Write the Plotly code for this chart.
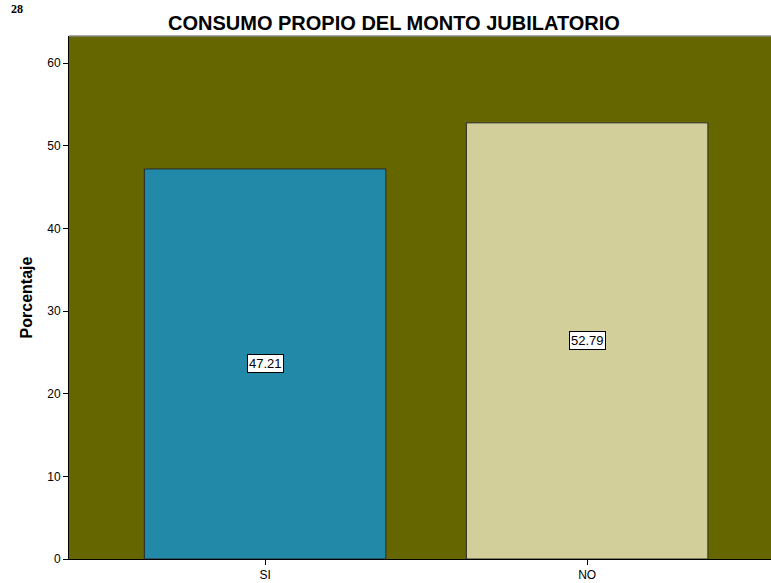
import plotly.graph_objects as go

categories = ["SI", "NO"]
values = [47.21, 52.79]
labels = ["47.21", "52.79"]
colors = ["#2389a8", "#d3cf9a"]

FONT = "Liberation Sans, Arial"

fig = go.Figure()
fig.add_trace(go.Bar(
    x=categories, y=values, width=0.75,
    marker=dict(color=colors, line=dict(color="#2a2a2a", width=1)),
    hoverinfo="skip",
))

for c, v, t in zip(categories, values, labels):
    fig.add_annotation(x=c, y=v / 2, text=t, showarrow=False,
                       font=dict(family=FONT, size=13, color="black"),
                       bgcolor="white", bordercolor="black", borderwidth=1, borderpad=1)

fig.add_annotation(xref="paper", yref="paper", x=-0.085, y=1.0688, text="<b>28</b>",
                   showarrow=False, xanchor="left", yanchor="top",
                   font=dict(family="Liberation Serif", size=12, color="black"))

fig.update_layout(
    width=771, height=583,
    margin=dict(l=69, r=0, t=36, b=24),
    paper_bgcolor="white", plot_bgcolor="#666600",
    showlegend=False,
    title=dict(text="<b>CONSUMO PROPIO DEL MONTO JUBILATORIO</b>", x=0.511, xanchor="center",
               y=0.9605, yanchor="middle",
               font=dict(family=FONT, size=20, color="black")),
    xaxis=dict(range=[-0.609, 1.571], showgrid=False, zeroline=False,
               ticks="outside", ticklen=5, tickcolor="black",
               showline=True, linecolor="black", linewidth=1,
               tickfont=dict(family=FONT, size=12, color="black")),
    yaxis=dict(range=[0, 63.3], tickvals=[0, 10, 20, 30, 40, 50, 60], showgrid=False, zeroline=False,
               ticks="outside", ticklen=5, tickcolor="black",
               showline=True, linecolor="black", linewidth=1,
               title=dict(text="<b>Porcentaje</b>", standoff=10,
                          font=dict(family=FONT, size=16, color="black")),
               tickfont=dict(family=FONT, size=12, color="black")),
    bargap=0.25,
)
fig.add_shape(type="line", xref="paper", yref="paper", x0=0, x1=1, y0=1, y1=1,
              line=dict(color="#888888", width=1.5))

fig.write_html("out.html", config={"displayModeBar": False},
               post_script="document.body.style.margin='0px';document.body.style.overflow='hidden';")
